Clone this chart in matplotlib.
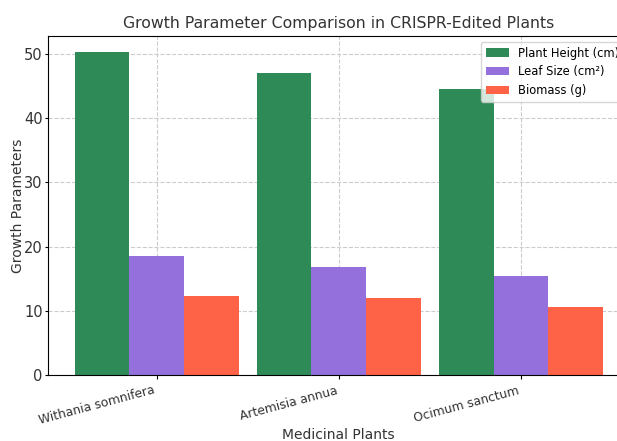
import numpy as np
import matplotlib
matplotlib.use("Agg")
import matplotlib.pyplot as plt

plants = ["Withania somnifera", "Artemisia annua", "Ocimum sanctum"]
plant_height = [50.3, 47.1, 44.6]
leaf_size = [18.5, 16.8, 15.4]
biomass = [12.3, 12.0, 10.6]

series = [
    ("Plant Height (cm)", plant_height, "#2E8B57"),
    ("Leaf Size (cm²)", leaf_size, "#9370DB"),
    ("Biomass (g)", biomass, "#FF6347"),
]

bar_width = 0.3
index = np.arange(len(plants))

fig = plt.figure(figsize=(6.17, 4.41), dpi=100)
# the original is cropped on the right, so the axes run past the figure edge
ax = fig.add_axes([0.078, 0.150, 0.942, 0.768])

for i, (label, values, color) in enumerate(series):
    ax.bar(index + (i - 1) * bar_width, values, bar_width, color=color, label=label)

ax.set_title("Growth Parameter Comparison in CRISPR-Edited Plants", fontsize=11.3, color="#333333")
ax.set_xlabel("Medicinal Plants", fontsize=10, color="#333333", labelpad=0.5)
ax.set_ylabel("Growth Parameters", fontsize=10, color="#333333", labelpad=-1)
ax.set_xticks(index)
ax.set_xticklabels(plants, rotation=15, ha="right", fontsize=8.8, color="#333333")
ax.tick_params(axis="y", labelsize=10.5, pad=1.5, length=2.5, labelcolor="#333333")
ax.tick_params(axis="x", length=3)
ax.grid(True, linestyle="--", color="#cccccc", linewidth=0.8)
ax.set_axisbelow(True)
ax.legend(loc="upper right", fontsize=8.3, labelspacing=0.5)

fig.savefig("out.png", dpi=100)
